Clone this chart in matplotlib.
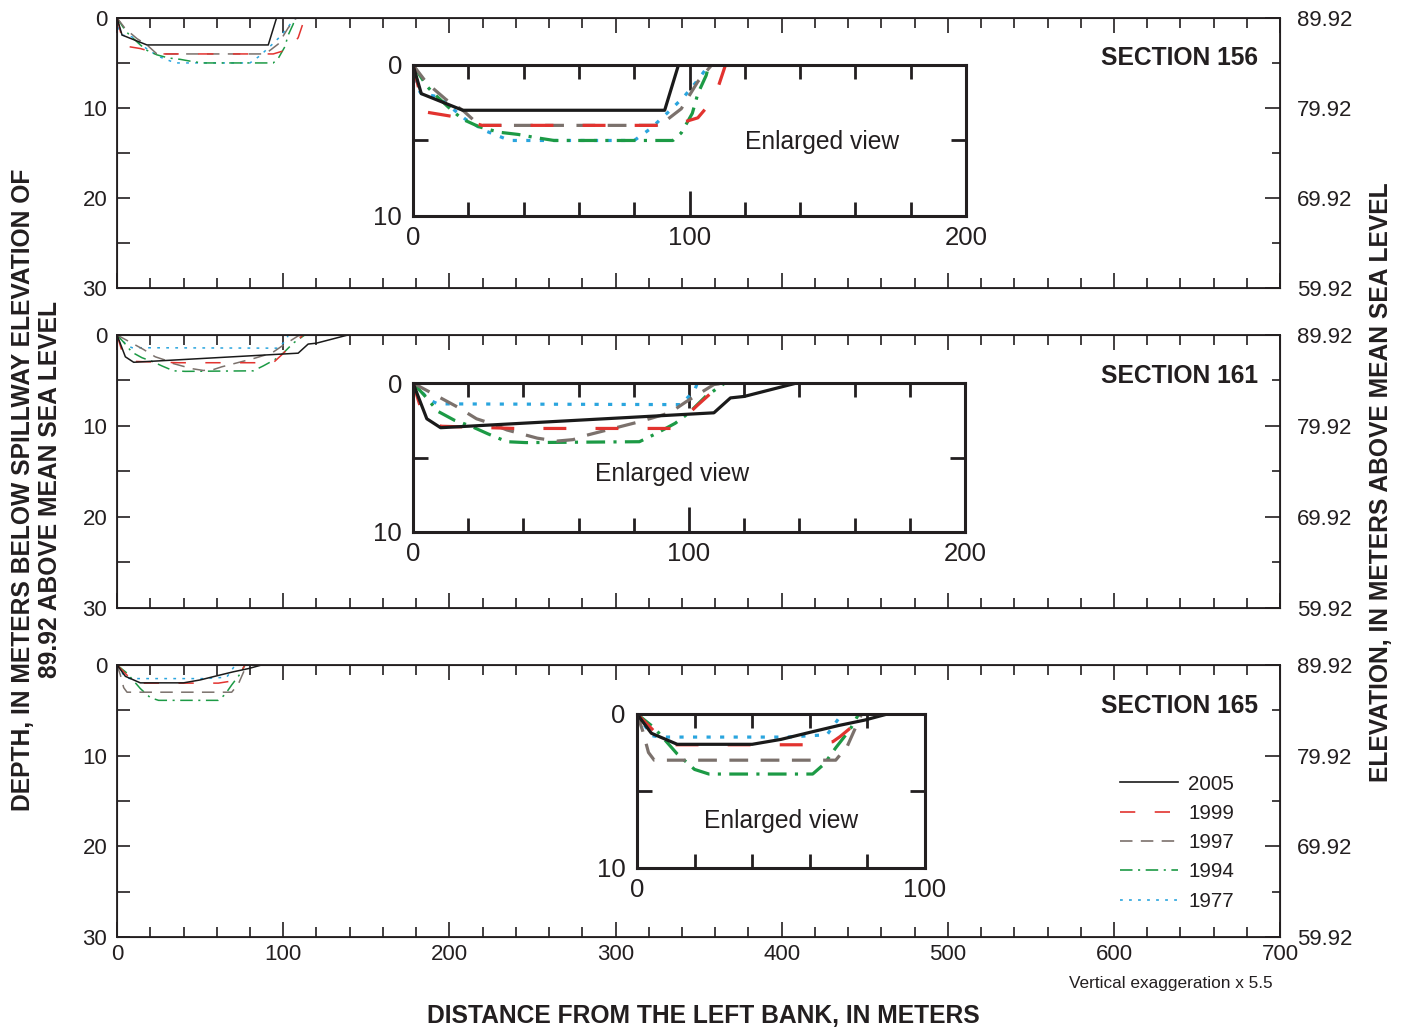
import matplotlib.pyplot as plt
from matplotlib.ticker import MultipleLocator, FixedLocator
from matplotlib.lines import Line2D

plt.rcParams['font.family'] = ['Liberation Sans', 'DejaVu Sans']
ink = '#231f20'
plt.rcParams['text.color'] = ink
plt.rcParams['axes.edgecolor'] = ink
plt.rcParams['xtick.color'] = ink
plt.rcParams['ytick.color'] = ink

# Survey years (legend order)
years = ['2005', '1999', '1997', '1994', '1977']

# Section 156: distance from left bank (m) and depth below spillway (m)
s156_x_2005 = [0, 3, 18, 91, 96]
s156_d_2005 = [0, 1.9, 3.0, 3.0, 0]
s156_x_1999 = [0, 2, 4, 14, 25, 94, 103, 109, 113]
s156_d_1999 = [0, 1.5, 3.1, 3.4, 4.0, 4.0, 3.5, 2.2, 0]
s156_x_1997 = [0, 5, 12, 18, 24, 88, 91, 97, 103, 108]
s156_d_1997 = [0, 1.2, 2.3, 3.0, 4.0, 4.0, 3.75, 2.9, 1.1, 0]
s156_x_1994 = [0, 5, 7, 14, 18, 24, 31, 38, 44, 51, 94, 97, 101, 103, 106, 107]
s156_d_1994 = [0, 1.4, 1.8, 3.0, 3.6, 4.1, 4.45, 4.6, 4.8, 5.0, 5.0, 4.5, 3.2, 1.9, 0.7, 0]
s156_x_1977 = [0, 1, 3, 9, 19, 26, 35, 80, 86, 93, 98, 103, 107]
s156_d_1977 = [0, 1.4, 1.9, 2.1, 3.6, 4.35, 5.0, 5.0, 4.2, 3.0, 2.1, 1.0, 0]

# Section 161
s161_x_2005 = [0, 5, 10, 109, 115, 120, 139]
s161_d_2005 = [0, 2.4, 3.0, 2.0, 1.0, 0.9, 0]
s161_x_1999 = [0, 3, 10, 37, 94, 99, 103, 106, 112]
s161_d_1999 = [0, 1.8, 2.9, 3.05, 3.05, 2.2, 1.5, 1.0, 0]
s161_x_1997 = [0, 6, 16, 23, 28, 34, 45, 52, 58, 63, 82, 93, 99, 109, 113]
s161_d_1997 = [0, 0.6, 1.6, 2.4, 2.7, 3.15, 3.7, 3.9, 3.8, 3.5, 2.6, 2.0, 1.25, 0.1, 0]
s161_x_1994 = [0, 4, 9, 15, 21, 27, 34, 41, 82, 88, 95, 100, 106, 113]
s161_d_1994 = [0, 0.8, 1.9, 2.5, 2.9, 3.4, 3.94, 4.0, 3.94, 3.4, 2.7, 2.0, 0.9, 0]
s161_x_1977 = [0, 6, 9, 97, 102, 103]
s161_d_1977 = [0, 1.15, 1.4, 1.45, 0.5, 0]

# Section 165
s165_x_2005 = [0, 5, 14, 40, 50, 61, 70, 79, 87]
s165_d_2005 = [0, 1.25, 1.97, 1.97, 1.65, 1.15, 0.75, 0.4, 0]
s165_x_1999 = [0, 8, 10, 61, 68, 70.5, 74, 77]
s165_d_1999 = [0, 1.5, 2.0, 2.0, 1.8, 1.47, 0.93, 0]
s165_x_1997 = [0, 2, 4, 6, 69, 73, 78]
s165_d_1997 = [0, 1.1, 2.5, 3.0, 3.0, 2.1, 0]
s165_x_1994 = [0, 6, 14, 20, 25, 61, 65, 69, 74, 77]
s165_d_1994 = [0, 0.9, 2.6, 3.6, 3.9, 3.9, 3.25, 2.2, 1.0, 0]
s165_x_1977 = [0, 5, 8, 52, 66, 70, 71]
s165_d_1977 = [0, 1.4, 1.5, 1.5, 1.35, 0.3, 0]

right_labels = ['89.92', '79.92', '69.92', '59.92']

colors = {'2005': '#1a1a1a', '1999': '#e2332f', '1997': '#7b716c',
          '1994': '#1c9a45', '1977': '#2aa5de'}
# dash patterns in points (on, off, ...)
patterns = {'2005': None, '1999': (11, 14), '1997': (9, 6),
            '1994': (9, 4, 1.5, 4), '1977': (2, 4.5)}


def draw_profile(ax, x, d, year, lw, scale):
    kw = dict(color=colors[year], lw=lw, solid_capstyle='butt', dash_capstyle='butt')
    if patterns[year] is not None:
        kw['dashes'] = [v * scale / lw for v in patterns[year]]
    ax.plot(x, d, **kw)


def draw_section(ax, sec, lw, scale):
    for yr in ['1977', '1994', '1997', '1999', '2005']:
        x = globals()[f's{sec}_x_{yr}']
        d = globals()[f's{sec}_d_{yr}']
        draw_profile(ax, x, d, yr, lw, scale)


fig = plt.figure(figsize=(14.12, 10.31), dpi=100)


def main_panel(rect, sec, xlabels):
    ax = fig.add_axes(rect)
    ax.set_xlim(0, 700)
    ax.set_ylim(30, 0)
    ax.xaxis.set_major_locator(MultipleLocator(100))
    ax.xaxis.set_minor_locator(MultipleLocator(20))
    ax.yaxis.set_major_locator(MultipleLocator(10))
    ax.yaxis.set_minor_locator(MultipleLocator(5))
    ax.tick_params(which='both', direction='in', top=True, width=1.2, labelsize=16)
    ax.tick_params(axis='x', which='major', length=11, pad=5)
    ax.tick_params(axis='x', which='minor', length=7)
    ax.tick_params(axis='y', which='both', length=9, pad=7)
    if not xlabels:
        ax.tick_params(axis='x', labelbottom=False)
    for s in ax.spines.values():
        s.set_linewidth(1.3)
    ax2 = ax.twinx()
    ax2.set_ylim(30, 0)
    ax2.yaxis.set_major_locator(FixedLocator([0, 10, 20, 30]))
    ax2.set_yticklabels(right_labels)
    ax2.yaxis.set_minor_locator(MultipleLocator(5))
    ax2.tick_params(axis='y', which='both', direction='in', width=1.2, labelsize=16, pad=12)
    ax2.tick_params(axis='y', which='major', length=11)
    ax2.tick_params(axis='y', which='minor', length=6)
    draw_section(ax, sec, 1.1, 1.0)
    ax.text(0.981, 0.85, f'SECTION {sec}', transform=ax.transAxes, ha='right',
            va='center', fontsize=17.7, fontweight='bold')
    return ax


def inset(rect, sec, xmax, xlabels, txt_xy):
    ax = fig.add_axes(rect)
    ax.set_xlim(0, xmax)
    ax.set_ylim(10, 0)
    ax.xaxis.set_major_locator(FixedLocator(xlabels))
    ax.xaxis.set_minor_locator(MultipleLocator(20))
    ax.yaxis.set_major_locator(FixedLocator([0, 10]))
    ax.yaxis.set_minor_locator(FixedLocator([5]))
    ax.tick_params(which='both', direction='in', top=True, right=True, width=2.0,
                   labelsize=18.5)
    ax.tick_params(axis='x', which='major', length=18, pad=7)
    ax.tick_params(axis='x', which='minor', length=10)
    ax.tick_params(axis='y', which='both', length=11, pad=8)
    for s in ax.spines.values():
        s.set_linewidth(2.2)
    draw_section(ax, sec, 2.3, 1.5)
    ax.text(txt_xy[0], txt_xy[1], 'Enlarged view', ha='center', va='center', fontsize=17.7)
    return ax


ax1 = main_panel([0.0829, 0.7207, 0.8237, 0.2619], 156, False)
ax2 = main_panel([0.0829, 0.4103, 0.8237, 0.2648], 161, False)
ax3 = main_panel([0.0829, 0.0912, 0.8237, 0.2638], 165, True)

inset([0.2925, 0.7905, 0.3917, 0.1465], 156, 200, [0, 100, 200], (148, 5.1))
inset([0.2925, 0.4840, 0.3910, 0.1445], 161, 200, [0, 100, 200], (94, 6.1))
inset([0.4511, 0.1581, 0.2040, 0.1494], 165, 100, [0, 100], (50, 6.95))

handles = []
for yr in years:
    kw = dict(color=colors[yr], lw=1.2)
    if patterns[yr] is not None:
        kw['dashes'] = [v / 1.2 for v in patterns[yr]]
    handles.append(Line2D([], [], **kw))
ax3.legend(handles, years, loc='upper left', bbox_to_anchor=(0.862, 0.597),
           frameon=False, fontsize=14.8, handlelength=2.85, handletextpad=0.5,
           labelspacing=0.5, borderpad=0, borderaxespad=0)

fig.text(0.026, 0.525, 'DEPTH, IN METERS BELOW SPILLWAY ELEVATION OF\n89.92 ABOVE MEAN SEA LEVEL',
         rotation=90, ha='center', va='center', fontsize=17.7, fontweight='bold',
         multialignment='center', linespacing=1.15)
fig.text(0.978, 0.532, 'ELEVATION, IN METERS ABOVE MEAN SEA LEVEL', rotation=90,
         ha='center', va='center', fontsize=17.7, fontweight='bold')
fig.text(0.498, 0.0145, 'DISTANCE FROM THE LEFT BANK, IN METERS', ha='center',
         va='center', fontsize=17.7, fontweight='bold')
fig.text(0.829, 0.0456, 'Vertical exaggeration x 5.5', ha='center', va='center',
         fontsize=12.4)

fig.savefig('out.png', dpi=100)
